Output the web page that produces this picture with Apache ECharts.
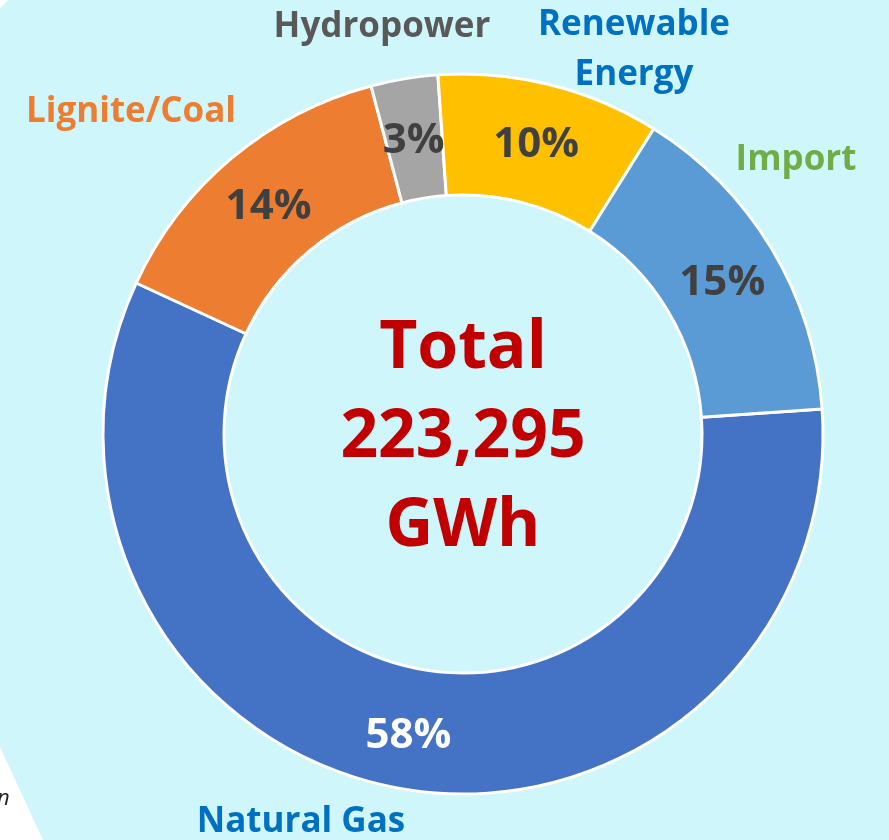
<!DOCTYPE html>
<html><head><meta charset="utf-8">
<script src="https://cdn.jsdelivr.net/npm/echarts@6/dist/echarts.min.js"></script>
<style>html,body{margin:0;padding:0;background:#cff6fb}#c{width:889px;height:840px}</style>
</head><body><div id="c"></div>
<script>
// ---- data ----
const categories = ['Natural Gas', 'Lignite/Coal', 'Hydropower', 'Renewable Energy', 'Import'];
const shares = [58, 14, 3, 10, 15];            // percent of total generation
const totalLabel = 'Total';
const totalValue = '223,295';
const totalUnit = 'GWh';

// ---- styles / layout (not data) ----
const sliceColors = ['#4472c4', '#ed7d31', '#a5a5a5', '#ffc000', '#5b9bd5'];
const nameColors = ['#0070c0', '#ed7d31', '#595959', '#0070c0', '#70ad47'];
const pctColors = ['#ffffff', '#404040', '#404040', '#404040', '#404040'];
const namePos = [[301, 822], [131, 112], [382, 27], [634, 50], [796, 160]];
const CX = 463, CY = 434;

const pieData = categories.map((c, i) => ({
  name: c, value: shares[i],
  itemStyle: { color: sliceColors[i] },
  label: { color: pctColors[i] }
}));
const nameData = categories.map((c, i) => ({
  name: c, value: shares[i],
  label: { color: nameColors[i] }
}));

const chart = echarts.init(document.getElementById('c'), null, { renderer: 'canvas' });
chart.setOption({
  backgroundColor: '#cff6fb',
  animation: false,
  graphic: [
    { type: 'polygon', shape: { points: [[0, 747], [43, 840], [0, 840]] }, style: { fill: '#ffffff' }, z: 0 },
    { type: 'polygon', shape: { points: [[0, 0], [8, 0], [0, 9]] }, style: { fill: '#ffffff' }, z: 0 },
    { type: 'text', left: -3, top: 788, style: { text: 'n', fill: '#222', font: 'italic 22px "Open Sans"' }, z: 0 },
    {
      type: 'text', x: CX, y: CY + 4, z: 10,
      style: {
        text: [totalLabel, totalValue, totalUnit].join('\n'),
        fill: '#c00000', font: 'bold 66px "Open Sans"',
        align: 'center', verticalAlign: 'middle', lineHeight: 89
      }
    }
  ],
  series: [
    {
      type: 'pie', center: [CX, CY], radius: [239, 360], startAngle: 4, clockwise: true,
      avoidLabelOverlap: false, silent: true,
      itemStyle: { borderColor: '#ffffff', borderWidth: 3 },
      label: {
        show: true, position: 'inside', formatter: p => p.value + '%',
        fontFamily: 'Open Sans', fontWeight: 'bold', fontSize: 42
      },
      labelLayout: function () { return { dy: 5, hideOverlap: false }; },
      labelLine: { show: false },
      data: pieData
    },
    {
      type: 'pie', center: [CX, CY], radius: [239, 360], startAngle: 4, clockwise: true,
      avoidLabelOverlap: false, silent: true, z: 5,
      itemStyle: { color: 'rgba(0,0,0,0)', borderWidth: 0 },
      label: {
        show: true, position: 'outside',
        formatter: p => p.name.replace('Renewable ', 'Renewable\n'),
        fontFamily: 'Open Sans', fontWeight: 'bold', fontSize: 35, lineHeight: 50, align: 'center'
      },
      labelLine: { show: false },
      labelLayout: function (p) {
        const pos = namePos[p.dataIndex];
        return { x: pos[0], y: pos[1], align: 'center', verticalAlign: 'middle', hideOverlap: false };
      },
      data: nameData
    }
  ]
});
</script></body></html>
